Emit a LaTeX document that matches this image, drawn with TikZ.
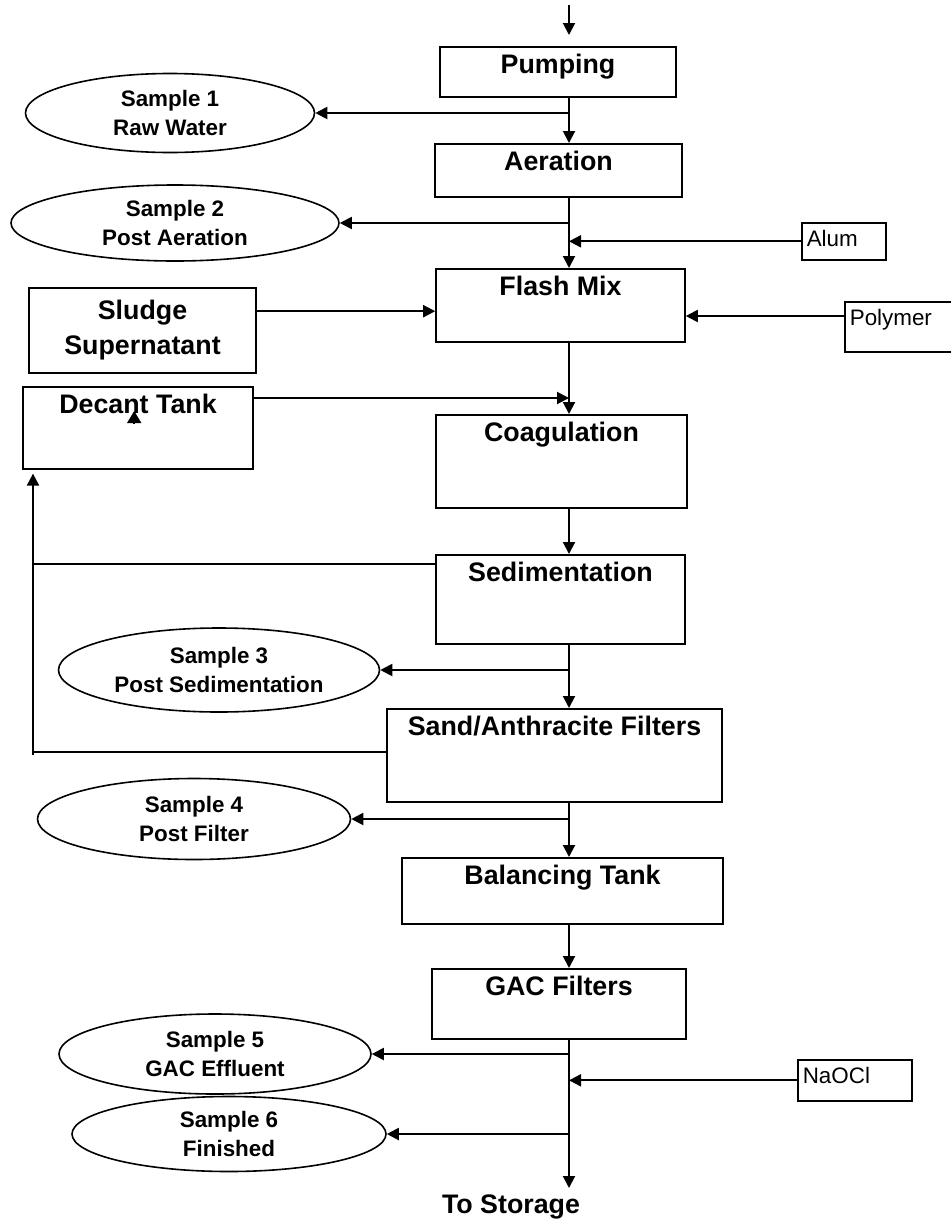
\documentclass[tikz,border=0pt]{standalone}
\usepackage{fontspec}
\setmainfont{Liberation Sans}
\usepackage{tikz}
\usetikzlibrary{arrows.meta,calc,shapes.geometric}

\begin{document}
\begin{tikzpicture}[
  x=0.5pt, y=-0.5pt,
  lbl/.style={font=\bfseries\fontsize{13.4}{17.5}\selectfont},
  unit/.style={lbl, draw, line width=0.8pt, anchor=north, text height=10pt,
               inner xsep=0pt, inner ysep=3.5pt},
  samp/.style={draw, ellipse, line width=0.8pt, inner sep=0pt, align=center,
               font=\bfseries\fontsize{11.2}{14.5}\selectfont},
  feed/.style={draw, line width=0.8pt, anchor=north west, align=left, text height=8pt,
               inner xsep=2.5pt, inner ysep=4pt, font=\fontsize{11.2}{13}\selectfont},
  arr/.style={-{Triangle[length=6pt, width=6pt]}, line width=1pt},
  ln/.style={line width=1pt}
]
\useasboundingbox (0,0) rectangle (950,1221);
\node[unit, minimum width=118pt,   text depth=8pt]    (pump)  at (558,46)    {Pumping};
\node[unit, minimum width=123.5pt, text depth=9.5pt]  (aer)   at (558.5,143) {Aeration};
\node[unit, minimum width=124.5pt, text depth=19.5pt] (flash) at (560.5,268) {Flash Mix};
\node[unit, minimum width=125.5pt, text depth=29.5pt] (coag)  at (561.5,414) {Coagulation};
\node[unit, minimum width=124.5pt, text depth=27.5pt] (sed)   at (560.5,554) {Sedimentation};
\node[unit, minimum width=167.5pt, text depth=29.5pt] (sand)  at (554.5,708) {Sand/Anthracite Filters};
\node[unit, minimum width=160.5pt, text depth=16pt]   (bal)   at (562.5,857) {Balancing Tank};
\node[unit, minimum width=127pt,   text depth=18pt]   (gac)   at (559,968)   {GAC Filters};
\node[unit, minimum width=115pt,   text depth=24pt]   (dec)   at (138,386)   {Decant Tank};
\node[lbl, draw, line width=0.8pt, align=center, inner sep=0pt, minimum width=113.5pt,
      minimum height=42.5pt] (sludge) at (142.5,330.5) {Sludge\\Supernatant};
\node[lbl] (store) at (511,1207) {To Storage};
% sampling points
\node[samp, minimum width=144.5pt, minimum height=39.5pt] (s1) at (170,113)  {Sample 1\\Raw Water};
\node[samp, minimum width=164pt,   minimum height=38pt]   (s2) at (175,223)  {Sample 2\\Post Aeration};
\node[samp, minimum width=160.5pt, minimum height=42pt]   (s3) at (219,670)  {Sample 3\\Post Sedimentation};
\node[samp, minimum width=156.5pt, minimum height=40.5pt] (s4) at (194,819)  {Sample 4\\Post Filter};
\node[samp, minimum width=156pt,   minimum height=40pt]   (s5) at (215,1054) {Sample 5\\GAC Effluent};
\node[samp, minimum width=157pt,   minimum height=37.5pt] (s6) at (229,1134) {Sample 6\\Finished};
% chemical feeds
\node[feed, text width=37pt, text depth=2.5pt] (alum)  at (801,222)  {Alum};
\node[feed, text width=53pt, text depth=9pt]   (poly)  at (844,301)  {Polymer};
\node[feed, text width=52pt, text depth=4.5pt] (naocl) at (797,1059) {NaOCl};
\coordinate (in)  at (569,5);
\coordinate (out) at (569,1188);
\coordinate (rc)  at (33,755);
\draw[arr, shorten >=5.5pt] (in) -- (in |- pump.north);
\foreach \a/\b in {pump/aer, aer/flash, flash/coag, coag/sed, sed/sand, sand/bal, bal/gac}
  \draw[arr] (\a.south -| in) -- (\b.north -| in);
\draw[arr] (gac.south -| in) -- (out);
\foreach \s in {s1, s2, s3, s4, s5, s6}
  \draw[arr] (\s -| in) -- (\s);
\draw[arr] (alum.west) -- (alum.west -| in);
\draw[arr] (naocl.west) -- (naocl.west -| in);
\draw[arr] ([yshift=-7.5pt]poly.north west) -- ([yshift=-7.5pt]poly.north west -| flash.east);
\draw[arr] ([yshift=-12pt]sludge.north east) -- ([yshift=-12pt]sludge.north east -| flash.west);
\draw[arr] ([yshift=-6pt]dec.north east) -- ([yshift=-6pt]dec.north east -| in);
% sludge return
\draw[ln] ([yshift=-5pt]sed.north west) -- ([yshift=-5pt]sed.north west -| rc);
\draw[ln] ([yshift=-22pt]sand.north west) -- ([yshift=-22pt]sand.north west -| rc);
\draw[arr, shorten >=2pt] (rc) -- (rc |- dec.south);
\draw[-{Triangle[length=6pt, width=7pt]}, line width=0.8pt] ($(dec.north west)+(112,37)$) -- ++(0,-12);
\end{tikzpicture}
\end{document}
